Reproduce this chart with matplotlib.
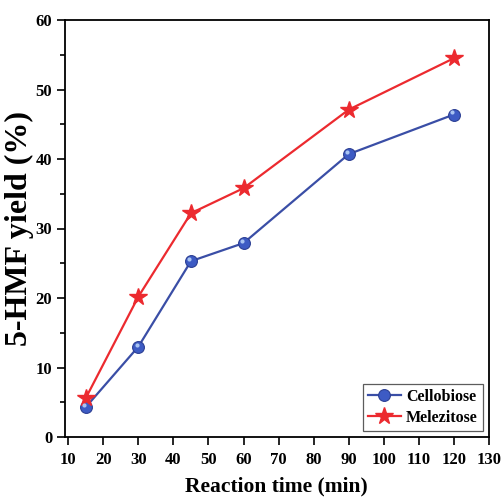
import matplotlib.pyplot as plt
import matplotlib.transforms as mtransforms
from matplotlib.ticker import MultipleLocator

# reaction time (min) and 5-HMF yield (%)
time_min = [15, 30, 45, 60, 90, 120]
cellobiose = [4.3, 13.0, 25.3, 27.9, 40.7, 46.4]
melezitose = [5.6, 20.2, 32.2, 35.8, 47.1, 54.5]

x_ticks = list(range(10, 131, 10))
y_ticks = list(range(0, 61, 10))

plt.rcParams['font.family'] = ['Liberation Serif', 'DejaVu Serif']
plt.rcParams['font.weight'] = 'bold'

fig = plt.figure(figsize=(5.02, 5.00), dpi=100)
ax = fig.add_axes([0.129, 0.126, 0.845, 0.834])

blue = '#3a4ea6'
red = '#ec2a2f'

ax.plot(time_min, cellobiose, color=blue, lw=1.6, marker='o', ms=8.5,
        mfc='#3d5bc4', mec='#2c3f94', mew=0.8, label='Cellobiose', zorder=3)
# small highlight to give the shiny sphere look
shift = mtransforms.ScaledTranslation(-1.2 / 72, 1.5 / 72, fig.dpi_scale_trans)
ax.plot(time_min, cellobiose, ls='none', marker='o', ms=3, mfc='#a9c4f2',
        mec='none', transform=ax.transData + shift, zorder=4)
ax.plot(time_min, melezitose, color=red, lw=1.6, marker='*', ms=13,
        mfc=red, mec=red, label='Melezitose', zorder=3)

ax.set_xlim(9, 130)
ax.set_ylim(0, 60)
ax.set_xticks(x_ticks)
ax.set_yticks(y_ticks)
ax.yaxis.set_minor_locator(MultipleLocator(5))
ax.tick_params(axis='both', which='major', direction='out', length=6, width=1.2,
               labelsize=12)
ax.tick_params(axis='x', pad=5)
ax.tick_params(axis='y', pad=3)
ax.tick_params(axis='y', which='minor', direction='out', length=3.5, width=1.2)
for s in ax.spines.values():
    s.set_linewidth(1.3)

ax.set_xlabel('Reaction time (min)', fontsize=15.5, fontweight='bold', labelpad=6)
ax.set_ylabel('5-HMF yield (%)', fontsize=23, fontweight='bold')
ax.yaxis.set_label_coords(-0.072, 0.5)

leg = ax.legend(loc='lower right', fontsize=11.5, frameon=True, fancybox=False,
                edgecolor='#333333', handlelength=2.1, borderpad=0.3,
                labelspacing=0.3, handletextpad=0.3, borderaxespad=0.4)
leg.get_frame().set_linewidth(0.9)

fig.savefig('out.png', dpi=100)
